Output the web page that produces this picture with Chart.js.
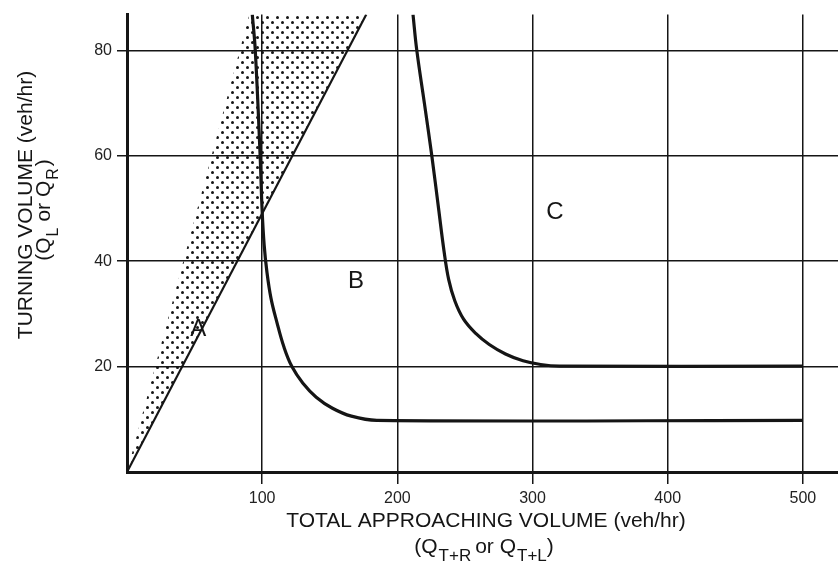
<!DOCTYPE html>
<html>
<head>
<meta charset="utf-8">
<script src="https://cdn.jsdelivr.net/npm/chart.js@4"></script>
<style>
  html, body { margin: 0; padding: 0; background: #fff; }
  canvas { display: block; }
</style>
</head>
<body>
<canvas id="turnChart" width="838" height="567"></canvas>
<script>
// axis ranges and ticks
const xMax = 526;
const yMax = 86.8;
const xTicks = [100, 200, 300, 400, 500];
const yTicks = [20, 40, 60, 80];

// boundary line from origin
const lineX = [0, 177];
const lineY = [0, 86.8];

// dotted zone A (polygon corners)
const shadeX = [0, 90.5, 177, 0];
const shadeY = [0, 86.8, 86.8, 0];

// curve B / C boundary
const curveBX = [92.7, 94.9, 98.5, 99.9, 101.5, 103.5, 106.5, 110.8, 116, 122, 130, 140, 152, 166, 184.8, 500];
const curveBY = [86.8, 80, 60, 50, 43, 38, 33, 28.5, 23.8, 20, 16.9, 14.2, 12.1, 10.6, 9.8, 9.8];
const curveCX = [211.6, 214.3, 220, 225.5, 230.5, 234.5, 238, 242.5, 249, 258, 268, 280, 293, 306, 320, 500];
const curveCY = [86.8, 80.2, 70, 60, 50, 42, 36.5, 32.5, 29, 26.3, 24.2, 22.4, 21.1, 20.4, 20.1, 20.1];

// zone letters
const zoneText = ['A', 'B', 'C'];
const zoneX = [52.7, 169.5, 316.6];
const zoneY = [27.0, 36.2, 49.3];

const ink = '#151515';
const fontFamily = '"Liberation Sans", Arial, Helvetica, sans-serif';

const toPoints = (xs, ys) => xs.map((x, i) => ({ x: x, y: ys[i] }));

// dot screen for zone A
const makeDots = () => {
    const tile = document.createElement('canvas');
    tile.width = 10;
    tile.height = 10;
    const t = tile.getContext('2d');
    t.fillStyle = ink;
    t.beginPath();
    t.arc(2.5, 2.5, 1.5, 0, Math.PI * 2);
    t.fill();
    t.beginPath();
    t.arc(7.5, 7.5, 1.5, 0, Math.PI * 2);
    t.fill();
    return t.createPattern(tile, 'repeat');
};

// draws text with subscript parts, centred on (0, 0) of the current transform
const drawRich = (ctx, parts, size, subSize) => {
    const widths = parts.map(p => {
        ctx.font = (p.sub ? subSize : size) + 'px ' + fontFamily;
        return ctx.measureText(p.t).width + (p.gap || 0);
    });
    const total = widths.reduce((a, b) => a + b, 0);
    let x = -total / 2;
    ctx.textAlign = 'left';
    ctx.textBaseline = 'alphabetic';
    parts.forEach((p, i) => {
        ctx.font = (p.sub ? subSize : size) + 'px ' + fontFamily;
        ctx.fillText(p.t, x, p.sub ? 8 : 0);
        x += widths[i];
    });
};

const annotations = {
    id: 'annotations',
    afterDraw(chart) {
        const ctx = chart.ctx;
        const xs = chart.scales.x;
        const ys = chart.scales.y;
        ctx.save();
        ctx.fillStyle = ink;

        // zone letters
        ctx.font = '24px ' + fontFamily;
        ctx.textAlign = 'center';
        ctx.textBaseline = 'middle';
        zoneText.forEach((t, i) => {
            ctx.fillText(t, xs.getPixelForValue(zoneX[i]), ys.getPixelForValue(zoneY[i]));
        });

        // x axis title
        ctx.save();
        ctx.translate(486, 527);
        drawRich(ctx, [{ t: 'TOTAL APPROACHING VOLUME (veh/hr)' }], 21, 21);
        ctx.restore();
        ctx.save();
        ctx.translate(484, 553);
        drawRich(ctx, [
            { t: '(Q', gap: 1 },
            { t: 'T+R', sub: true, gap: 4 },
            { t: 'or ' },
            { t: 'Q', gap: 1 },
            { t: 'T+L', sub: true },
            { t: ')' }
        ], 21, 17);
        ctx.restore();

        // y axis title
        ctx.save();
        ctx.translate(32, 205);
        ctx.rotate(-Math.PI / 2);
        drawRich(ctx, [{ t: 'TURNING VOLUME (veh/hr)' }], 21, 21);
        ctx.restore();
        ctx.save();
        ctx.translate(50, 210);
        ctx.rotate(-Math.PI / 2);
        drawRich(ctx, [
            { t: '(Q', gap: 1 },
            { t: 'L', sub: true, gap: 6 },
            { t: 'or ' },
            { t: 'Q', gap: 1 },
            { t: 'R', sub: true, gap: 2 },
            { t: ')' }
        ], 21, 16);
        ctx.restore();

        ctx.restore();
    }
};

const initTurnChart = () => {
    const ctx = document.getElementById('turnChart').getContext('2d');
    new Chart(ctx, {
        type: 'scatter',
        data: {
            datasets: [
                {
                    label: 'Zone A',
                    data: toPoints(shadeX, shadeY),
                    showLine: true,
                    fill: 'shape',
                    backgroundColor: makeDots(),
                    borderWidth: 0,
                    pointRadius: 0
                },
                {
                    label: 'Limit line',
                    data: toPoints(lineX, lineY),
                    showLine: true,
                    borderColor: ink,
                    borderWidth: 2.2,
                    pointRadius: 0
                },
                {
                    label: 'Curve B',
                    data: toPoints(curveBX, curveBY),
                    showLine: true,
                    tension: 0.4,
                    borderColor: ink,
                    borderWidth: 3.2,
                    pointRadius: 0
                },
                {
                    label: 'Curve C',
                    data: toPoints(curveCX, curveCY),
                    showLine: true,
                    tension: 0.4,
                    borderColor: ink,
                    borderWidth: 3.2,
                    pointRadius: 0
                }
            ]
        },
        options: {
            responsive: false,
            animation: false,
            devicePixelRatio: 1,
            layout: { padding: { top: 8, right: 0, bottom: 0, left: 0 } },
            plugins: {
                legend: { display: false },
                tooltip: { enabled: false }
            },
            scales: {
                x: {
                    type: 'linear',
                    min: 0,
                    max: xMax,
                    afterFit: s => { s.height = 95; },
                    afterBuildTicks: s => { s.ticks = xTicks.map(v => ({ value: v })); },
                    grid: { color: ink, lineWidth: 1.5, tickLength: 12, drawTicks: true },
                    border: { display: true, color: ink, width: 3 },
                    ticks: {
                        color: '#222',
                        padding: 5,
                        maxRotation: 0,
                        autoSkip: false,
                        font: { family: fontFamily, size: 16 }
                    }
                },
                y: {
                    type: 'linear',
                    min: 0,
                    max: yMax,
                    afterFit: s => { s.width = 127; },
                    afterBuildTicks: s => { s.ticks = yTicks.map(v => ({ value: v })); },
                    grid: { color: ink, lineWidth: 1.5, tickLength: 10, drawTicks: true },
                    border: { display: true, color: ink, width: 3 },
                    ticks: {
                        color: '#222',
                        padding: 5,
                        autoSkip: false,
                        font: { family: fontFamily, size: 16 }
                    }
                }
            }
        },
        plugins: [annotations]
    });
};

document.addEventListener('DOMContentLoaded', initTurnChart);
</script>
</body>
</html>
